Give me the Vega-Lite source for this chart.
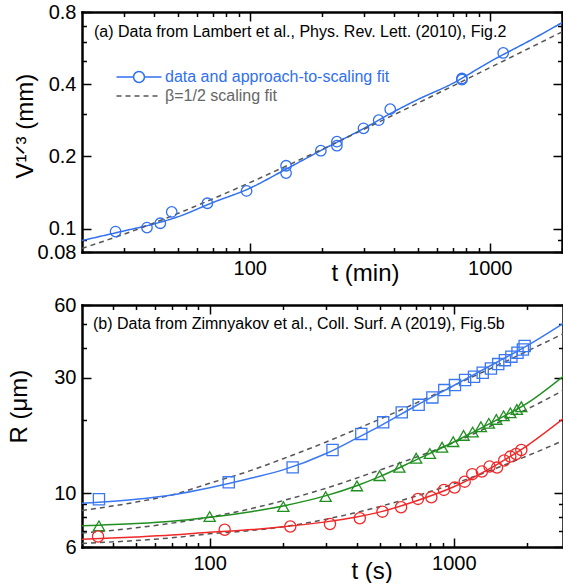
{
  "$schema": "https://vega.github.io/schema/vega-lite/v6.json",
  "padding": {"left": 7, "top": 2, "right": 0, "bottom": 0},
  "background": "white",
  "spacing": 10,
  "resolve": {"scale": {"color": "independent", "strokeDash": "independent", "shape": "independent"}, "legend": {"color": "independent", "strokeDash": "independent", "shape": "independent"}},
  "config": {
    "font": "Liberation Sans",
    "view": {"stroke": null},
    "axis": {
      "grid": false, "domainColor": "black", "domainWidth": 2.5, "domainCap": "square",
      "tickColor": "black", "tickWidth": 1.5,
      "labelFont": "Liberation Sans", "labelFontSize": 20, "labelColor": "black",
      "titleFont": "Liberation Sans", "titleFontSize": 24, "titleFontWeight": "normal", "titleColor": "black",
      "labelOverlap": false, "labelFlush": false, "labelPadding": 15
    }
  },
  "datasets": {
    "a_data": [
      {"t": 27.6, "V": 0.0973}, {"t": 37.3, "V": 0.1011}, {"t": 42.4, "V": 0.1054}, {"t": 47.3, "V": 0.1175},
      {"t": 66.6, "V": 0.1277}, {"t": 97, "V": 0.1437}, {"t": 141.7, "V": 0.183}, {"t": 141.7, "V": 0.1706},
      {"t": 197.8, "V": 0.2114}, {"t": 230.7, "V": 0.2305}, {"t": 230.7, "V": 0.2218}, {"t": 297.8, "V": 0.262},
      {"t": 344.6, "V": 0.2835}, {"t": 384.8, "V": 0.315}, {"t": 765.6, "V": 0.4226}, {"t": 765.6, "V": 0.418},
      {"t": 1138, "V": 0.54}
    ],
    "a_fits": [
      {"series": "data and approach-to-scaling fit", "t": 20, "V": 0.0893},
      {"series": "data and approach-to-scaling fit", "t": 30, "V": 0.098},
      {"series": "data and approach-to-scaling fit", "t": 40, "V": 0.1048},
      {"series": "data and approach-to-scaling fit", "t": 50, "V": 0.112},
      {"series": "data and approach-to-scaling fit", "t": 70, "V": 0.1285},
      {"series": "data and approach-to-scaling fit", "t": 100, "V": 0.1475},
      {"series": "data and approach-to-scaling fit", "t": 140, "V": 0.176},
      {"series": "data and approach-to-scaling fit", "t": 200, "V": 0.213},
      {"series": "data and approach-to-scaling fit", "t": 300, "V": 0.2625},
      {"series": "data and approach-to-scaling fit", "t": 400, "V": 0.308},
      {"series": "data and approach-to-scaling fit", "t": 500, "V": 0.345},
      {"series": "data and approach-to-scaling fit", "t": 700, "V": 0.403},
      {"series": "data and approach-to-scaling fit", "t": 1000, "V": 0.496},
      {"series": "data and approach-to-scaling fit", "t": 1500, "V": 0.615},
      {"series": "data and approach-to-scaling fit", "t": 2000, "V": 0.722},
      {"series": "β=1/2 scaling fit", "t": 20, "V": 0.0828},
      {"series": "β=1/2 scaling fit", "t": 30, "V": 0.095},
      {"series": "β=1/2 scaling fit", "t": 50, "V": 0.1156},
      {"series": "β=1/2 scaling fit", "t": 70, "V": 0.1331},
      {"series": "β=1/2 scaling fit", "t": 100, "V": 0.1556},
      {"series": "β=1/2 scaling fit", "t": 150, "V": 0.1873},
      {"series": "β=1/2 scaling fit", "t": 200, "V": 0.2143},
      {"series": "β=1/2 scaling fit", "t": 300, "V": 0.26},
      {"series": "β=1/2 scaling fit", "t": 500, "V": 0.3332},
      {"series": "β=1/2 scaling fit", "t": 700, "V": 0.393},
      {"series": "β=1/2 scaling fit", "t": 1000, "V": 0.4685},
      {"series": "β=1/2 scaling fit", "t": 1500, "V": 0.5727},
      {"series": "β=1/2 scaling fit", "t": 2000, "V": 0.6607}
    ],
    "b_data": [
      {"set": "A", "t": 35.2, "R": 9.45}, {"set": "A", "t": 119.7, "R": 11.1}, {"set": "A", "t": 218.7, "R": 12.8},
      {"set": "A", "t": 318.5, "R": 15.1}, {"set": "A", "t": 417.9, "R": 17.6}, {"set": "A", "t": 513.6, "R": 19.65},
      {"set": "A", "t": 612, "R": 21.6}, {"set": "A", "t": 717.7, "R": 23.2}, {"set": "A", "t": 817, "R": 24.9},
      {"set": "A", "t": 914, "R": 26.7}, {"set": "A", "t": 1011, "R": 28.0}, {"set": "A", "t": 1112, "R": 29.4},
      {"set": "A", "t": 1210, "R": 30.3}, {"set": "A", "t": 1313, "R": 31.5}, {"set": "A", "t": 1419, "R": 32.8},
      {"set": "A", "t": 1520, "R": 34.2}, {"set": "A", "t": 1619, "R": 35.5}, {"set": "A", "t": 1721, "R": 36.7},
      {"set": "A", "t": 1823, "R": 38.1}, {"set": "A", "t": 1918, "R": 39.3}, {"set": "A", "t": 1950, "R": 40.6},
      {"set": "B", "t": 35.2, "R": 7.34}, {"set": "B", "t": 100, "R": 8.01}, {"set": "B", "t": 200.3, "R": 8.81},
      {"set": "B", "t": 298.6, "R": 9.69}, {"set": "B", "t": 401, "R": 10.73}, {"set": "B", "t": 496.6, "R": 11.83},
      {"set": "B", "t": 598.5, "R": 12.8}, {"set": "B", "t": 701, "R": 13.96}, {"set": "B", "t": 798, "R": 14.6},
      {"set": "B", "t": 895, "R": 15.5}, {"set": "B", "t": 994, "R": 16.35}, {"set": "B", "t": 1096, "R": 17.35},
      {"set": "B", "t": 1194, "R": 17.9}, {"set": "B", "t": 1291, "R": 18.85}, {"set": "B", "t": 1391, "R": 19.46},
      {"set": "B", "t": 1493, "R": 20.2}, {"set": "B", "t": 1599, "R": 20.9}, {"set": "B", "t": 1704, "R": 21.5},
      {"set": "B", "t": 1812, "R": 22.2}, {"set": "B", "t": 1890, "R": 22.8},
      {"set": "C", "t": 34.9, "R": 6.63}, {"set": "C", "t": 115.2, "R": 7.07}, {"set": "C", "t": 213.9, "R": 7.29},
      {"set": "C", "t": 311, "R": 7.47}, {"set": "C", "t": 412, "R": 7.89}, {"set": "C", "t": 510, "R": 8.4},
      {"set": "C", "t": 608, "R": 8.76}, {"set": "C", "t": 713, "R": 9.48}, {"set": "C", "t": 809, "R": 9.63},
      {"set": "C", "t": 911, "R": 10.33}, {"set": "C", "t": 1007, "R": 10.56}, {"set": "C", "t": 1108, "R": 11.17},
      {"set": "C", "t": 1190, "R": 12.0}, {"set": "C", "t": 1303, "R": 12.3}, {"set": "C", "t": 1400, "R": 12.9},
      {"set": "C", "t": 1503, "R": 12.77}, {"set": "C", "t": 1608, "R": 13.66}, {"set": "C", "t": 1704, "R": 14.18},
      {"set": "C", "t": 1799, "R": 14.54}, {"set": "C", "t": 1890, "R": 15.1}
    ],
    "b_fit": [
      {"set": "A", "t": 30, "R": 9.1}, {"set": "A", "t": 50, "R": 9.45}, {"set": "A", "t": 70, "R": 9.85},
      {"set": "A", "t": 100, "R": 10.55}, {"set": "A", "t": 150, "R": 11.6}, {"set": "A", "t": 200, "R": 12.5},
      {"set": "A", "t": 300, "R": 14.6}, {"set": "A", "t": 400, "R": 16.9}, {"set": "A", "t": 500, "R": 19.0},
      {"set": "A", "t": 700, "R": 23.0}, {"set": "A", "t": 1000, "R": 27.9}, {"set": "A", "t": 1500, "R": 34.8},
      {"set": "A", "t": 2000, "R": 40.8}, {"set": "A", "t": 2800, "R": 50.3},
      {"set": "B", "t": 30, "R": 7.34}, {"set": "B", "t": 50, "R": 7.5}, {"set": "B", "t": 70, "R": 7.67},
      {"set": "B", "t": 100, "R": 7.97}, {"set": "B", "t": 150, "R": 8.42}, {"set": "B", "t": 200, "R": 8.87},
      {"set": "B", "t": 300, "R": 9.78}, {"set": "B", "t": 400, "R": 10.75}, {"set": "B", "t": 500, "R": 11.75},
      {"set": "B", "t": 700, "R": 13.75}, {"set": "B", "t": 1000, "R": 16.3}, {"set": "B", "t": 1500, "R": 20.1},
      {"set": "B", "t": 2000, "R": 23.6}, {"set": "B", "t": 2800, "R": 30.4},
      {"set": "C", "t": 30, "R": 6.46}, {"set": "C", "t": 50, "R": 6.6}, {"set": "C", "t": 70, "R": 6.72},
      {"set": "C", "t": 100, "R": 6.9}, {"set": "C", "t": 150, "R": 7.08}, {"set": "C", "t": 200, "R": 7.27},
      {"set": "C", "t": 300, "R": 7.62}, {"set": "C", "t": 400, "R": 7.98}, {"set": "C", "t": 500, "R": 8.38},
      {"set": "C", "t": 700, "R": 9.3}, {"set": "C", "t": 1000, "R": 10.65}, {"set": "C", "t": 1500, "R": 13.15},
      {"set": "C", "t": 2000, "R": 15.75}, {"set": "C", "t": 2800, "R": 20.3}
    ],
    "b_scal": [
      {"set": "A", "t": 30, "R": 8.5}, {"set": "A", "t": 50, "R": 9.2}, {"set": "A", "t": 70, "R": 9.85},
      {"set": "A", "t": 100, "R": 11.0}, {"set": "A", "t": 150, "R": 12.5}, {"set": "A", "t": 200, "R": 13.9},
      {"set": "A", "t": 300, "R": 16.3}, {"set": "A", "t": 500, "R": 20.3}, {"set": "A", "t": 700, "R": 23.6},
      {"set": "A", "t": 1000, "R": 27.9}, {"set": "A", "t": 1500, "R": 33.7}, {"set": "A", "t": 2000, "R": 38.7},
      {"set": "A", "t": 2800, "R": 45.6},
      {"set": "B", "t": 30, "R": 6.86}, {"set": "B", "t": 50, "R": 7.2}, {"set": "B", "t": 70, "R": 7.53},
      {"set": "B", "t": 100, "R": 7.97}, {"set": "B", "t": 150, "R": 8.67}, {"set": "B", "t": 200, "R": 9.33},
      {"set": "B", "t": 300, "R": 10.5}, {"set": "B", "t": 500, "R": 12.5}, {"set": "B", "t": 700, "R": 14.1},
      {"set": "B", "t": 1000, "R": 16.2}, {"set": "B", "t": 1500, "R": 19.5}, {"set": "B", "t": 2000, "R": 22.3},
      {"set": "B", "t": 2800, "R": 26.6},
      {"set": "C", "t": 30, "R": 6.21}, {"set": "C", "t": 50, "R": 6.38}, {"set": "C", "t": 70, "R": 6.55},
      {"set": "C", "t": 100, "R": 6.8}, {"set": "C", "t": 150, "R": 7.03}, {"set": "C", "t": 200, "R": 7.27},
      {"set": "C", "t": 300, "R": 7.82}, {"set": "C", "t": 500, "R": 8.83}, {"set": "C", "t": 700, "R": 9.74},
      {"set": "C", "t": 1000, "R": 10.95}, {"set": "C", "t": 1500, "R": 12.73}, {"set": "C", "t": 2000, "R": 14.28},
      {"set": "C", "t": 2800, "R": 16.5}
    ]
  },
  "vconcat": [
    {
      "width": 480,
      "height": 240,
      "title": {"text": "(a) Data from Lambert et al., Phys. Rev. Lett. (2010), Fig.2", "anchor": "start", "frame": "group", "offset": -51, "dx": 12, "baseline": "alphabetic", "fontSize": 16, "fontWeight": "normal", "font": "Liberation Sans", "color": "black"},
      "layer": [
        {
          "data": {"name": "a_fits"},
          "mark": {"type": "line", "strokeWidth": 1.5, "clip": true, "interpolate": "monotone"},
          "encoding": {
            "x": {"field": "t", "type": "quantitative", "scale": {"type": "log", "domain": [20, 2000], "nice": false},
              "axis": {"orient": "bottom", "values": [30, 40, 50, 60, 70, 80, 90, 100, 200, 300, 400, 500, 600, 700, 800, 900, 1000, 2000],
                "labelExpr": "indexof([100, 1000], datum.value) >= 0 ? '' + datum.value : ''",
                "tickSize": {"condition": {"test": "indexof([100, 1000], datum.value) >= 0", "value": -9}, "value": -4.5},
                "title": "t  (min)", "titleX": 249, "titleY": 28, "titleAlign": "left", "titleBaseline": "alphabetic"}},
            "y": {"field": "V", "type": "quantitative", "scale": {"type": "log", "domain": [0.08, 0.8], "nice": false},
              "axis": {"orient": "left", "values": [0.08, 0.09, 0.1, 0.2, 0.3, 0.4, 0.5, 0.6, 0.7, 0.8],
                "labelExpr": "indexof([0.08, 0.1, 0.2, 0.4, 0.8], datum.value) >= 0 ? '' + datum.value : ''",
                "tickSize": {"condition": {"test": "indexof([0.08, 0.1, 0.2, 0.4, 0.8], datum.value) >= 0", "value": -9}, "value": -4.5},
                "title": "V¹ᐟ³  (mm)", "titleAngle": 270, "titleX": -50, "titleY": 166, "titleAlign": "left", "titleBaseline": "alphabetic"}},
            "color": {"field": "series", "type": "nominal",
              "scale": {"domain": ["data and approach-to-scaling fit", "β=1/2 scaling fit"], "range": ["#2f6ff0", "#555555"]},
              "legend": {"title": null, "orient": "none", "legendX": 47, "legendY": 55, "padding": 0,
                "symbolSize": 324, "symbolStrokeWidth": 1.5, "symbolFillColor": "transparent",
                "symbolType": {"expr": "datum.value === 'β=1/2 scaling fit' ? 'M-2.5,0L2.5,0' : 'M-2.5,0L-0.6,0M0.6,0L2.5,0M-0.6,0A0.6,0.6,0,1,1,0.6,0A0.6,0.6,0,1,1,-0.6,0'"},
                "labelFontSize": 16, "labelFont": "Liberation Sans", "labelLimit": 0,
                "labelColor": {"expr": "datum.value === 'β=1/2 scaling fit' ? '#666666' : '#2f6ff0'"},
                "labelOffset": 16, "rowPadding": 0}},
            "strokeDash": {"field": "series", "type": "nominal",
              "scale": {"domain": ["data and approach-to-scaling fit", "β=1/2 scaling fit"], "range": [[1, 0], [5, 4]]},
              "legend": {"title": null, "orient": "none", "legendX": 47, "legendY": 55, "padding": 0,
                "symbolSize": 324, "symbolStrokeWidth": 1.5, "symbolFillColor": "transparent",
                "symbolType": {"expr": "datum.value === 'β=1/2 scaling fit' ? 'M-2.5,0L2.5,0' : 'M-2.5,0L-0.6,0M0.6,0L2.5,0M-0.6,0A0.6,0.6,0,1,1,0.6,0A0.6,0.6,0,1,1,-0.6,0'"},
                "labelFontSize": 16, "labelFont": "Liberation Sans", "labelLimit": 0,
                "labelColor": {"expr": "datum.value === 'β=1/2 scaling fit' ? '#666666' : '#2f6ff0'"},
                "labelOffset": 16, "rowPadding": 0}}
          }
        },
        {
          "data": {"name": "a_data"},
          "mark": {"type": "point", "shape": "circle", "filled": false, "size": 110, "strokeWidth": 1.3, "color": "#2f6ff0", "opacity": 1},
          "encoding": {
            "x": {"field": "t", "type": "quantitative", "scale": {"type": "log", "domain": [20, 2000], "nice": false},
              "axis": {"orient": "top", "values": [30, 40, 50, 60, 70, 80, 90, 100, 200, 300, 400, 500, 600, 700, 800, 900, 1000, 2000],
                "labels": false, "title": null,
                "tickSize": {"condition": {"test": "indexof([100, 1000], datum.value) >= 0", "value": -9}, "value": -4.5}}},
            "y": {"field": "V", "type": "quantitative", "scale": {"type": "log", "domain": [0.08, 0.8], "nice": false},
              "axis": {"orient": "right", "values": [0.08, 0.09, 0.1, 0.2, 0.3, 0.4, 0.5, 0.6, 0.7, 0.8],
                "labels": false, "title": null,
                "tickSize": {"condition": {"test": "indexof([0.08, 0.1, 0.2, 0.4, 0.8], datum.value) >= 0", "value": -9}, "value": -4.5}}}
          }
        }
      ],
      "resolve": {"axis": {"x": "independent", "y": "independent"}}
    },
    {
      "width": 481,
      "height": 242,
      "title": {"text": "(b) Data from Zimnyakov et al., Coll. Surf. A (2019), Fig.5b", "anchor": "start", "frame": "group", "offset": -50, "dx": 11, "baseline": "alphabetic", "fontSize": 16, "fontWeight": "normal", "font": "Liberation Sans", "color": "black"},
      "layer": [
        {
          "data": {"name": "b_scal"},
          "mark": {"type": "line", "strokeWidth": 1.5, "color": "#555555", "strokeDash": [5, 4], "clip": true, "interpolate": "monotone"},
          "encoding": {
            "x": {"field": "t", "type": "quantitative", "scale": {"type": "log", "domain": [30, 2800], "nice": false},
              "axis": {"orient": "bottom", "values": [40, 50, 60, 70, 80, 90, 100, 200, 300, 400, 500, 600, 700, 800, 900, 1000, 2000],
                "labelExpr": "indexof([100, 1000], datum.value) >= 0 ? '' + datum.value : ''",
                "tickSize": {"condition": {"test": "indexof([100, 1000], datum.value) >= 0", "value": -9}, "value": -4.5},
                "title": "t  (s)", "titleX": 269, "titleY": 31, "titleAlign": "left", "titleBaseline": "alphabetic"}},
            "y": {"field": "R", "type": "quantitative", "scale": {"type": "log", "domain": [6, 60], "nice": false},
              "axis": {"orient": "left", "values": [6, 7, 8, 9, 10, 20, 30, 40, 50, 60],
                "labelExpr": "indexof([6, 10, 30, 60], datum.value) >= 0 ? '' + datum.value : ''",
                "tickSize": {"condition": {"test": "indexof([6, 10, 30, 60], datum.value) >= 0", "value": -9}, "value": -4.5},
                "title": "R  (μm)", "titleAngle": 270, "titleX": -56, "titleY": 138, "titleAlign": "left", "titleBaseline": "alphabetic"}},
            "detail": {"field": "set", "type": "nominal"}
          }
        },
        {
          "data": {"name": "b_fit"},
          "mark": {"type": "line", "strokeWidth": 1.5, "clip": true, "interpolate": "monotone"},
          "encoding": {
            "x": {"field": "t", "type": "quantitative", "scale": {"type": "log", "domain": [30, 2800], "nice": false}, "axis": null},
            "y": {"field": "R", "type": "quantitative", "scale": {"type": "log", "domain": [6, 60], "nice": false}, "axis": null},
            "color": {"field": "set", "type": "nominal", "scale": {"domain": ["A", "B", "C"], "range": ["#3a78f2", "#1f8f1f", "#f02828"]}, "legend": null}
          }
        },
        {
          "data": {"name": "b_data"},
          "mark": {"type": "point", "filled": false, "size": 125, "strokeWidth": 1.3, "opacity": 1},
          "encoding": {
            "x": {"field": "t", "type": "quantitative", "scale": {"type": "log", "domain": [30, 2800], "nice": false},
              "axis": {"orient": "top", "values": [40, 50, 60, 70, 80, 90, 100, 200, 300, 400, 500, 600, 700, 800, 900, 1000, 2000],
                "labels": false, "title": null,
                "tickSize": {"condition": {"test": "indexof([100, 1000], datum.value) >= 0", "value": -9}, "value": -4.5}}},
            "y": {"field": "R", "type": "quantitative", "scale": {"type": "log", "domain": [6, 60], "nice": false},
              "axis": {"orient": "right", "values": [6, 7, 8, 9, 10, 20, 30, 40, 50, 60],
                "labels": false, "title": null,
                "tickSize": {"condition": {"test": "indexof([6, 10, 30, 60], datum.value) >= 0", "value": -9}, "value": -4.5}}},
            "color": {"field": "set", "type": "nominal", "scale": {"domain": ["A", "B", "C"], "range": ["#3a78f2", "#1f8f1f", "#f02828"]}, "legend": null},
            "shape": {"field": "set", "type": "nominal", "scale": {"domain": ["A", "B", "C"], "range": ["square", "triangle-up", "circle"]}, "legend": null}
          }
        }
      ],
      "resolve": {"axis": {"x": "independent", "y": "independent"}}
    }
  ]
}
